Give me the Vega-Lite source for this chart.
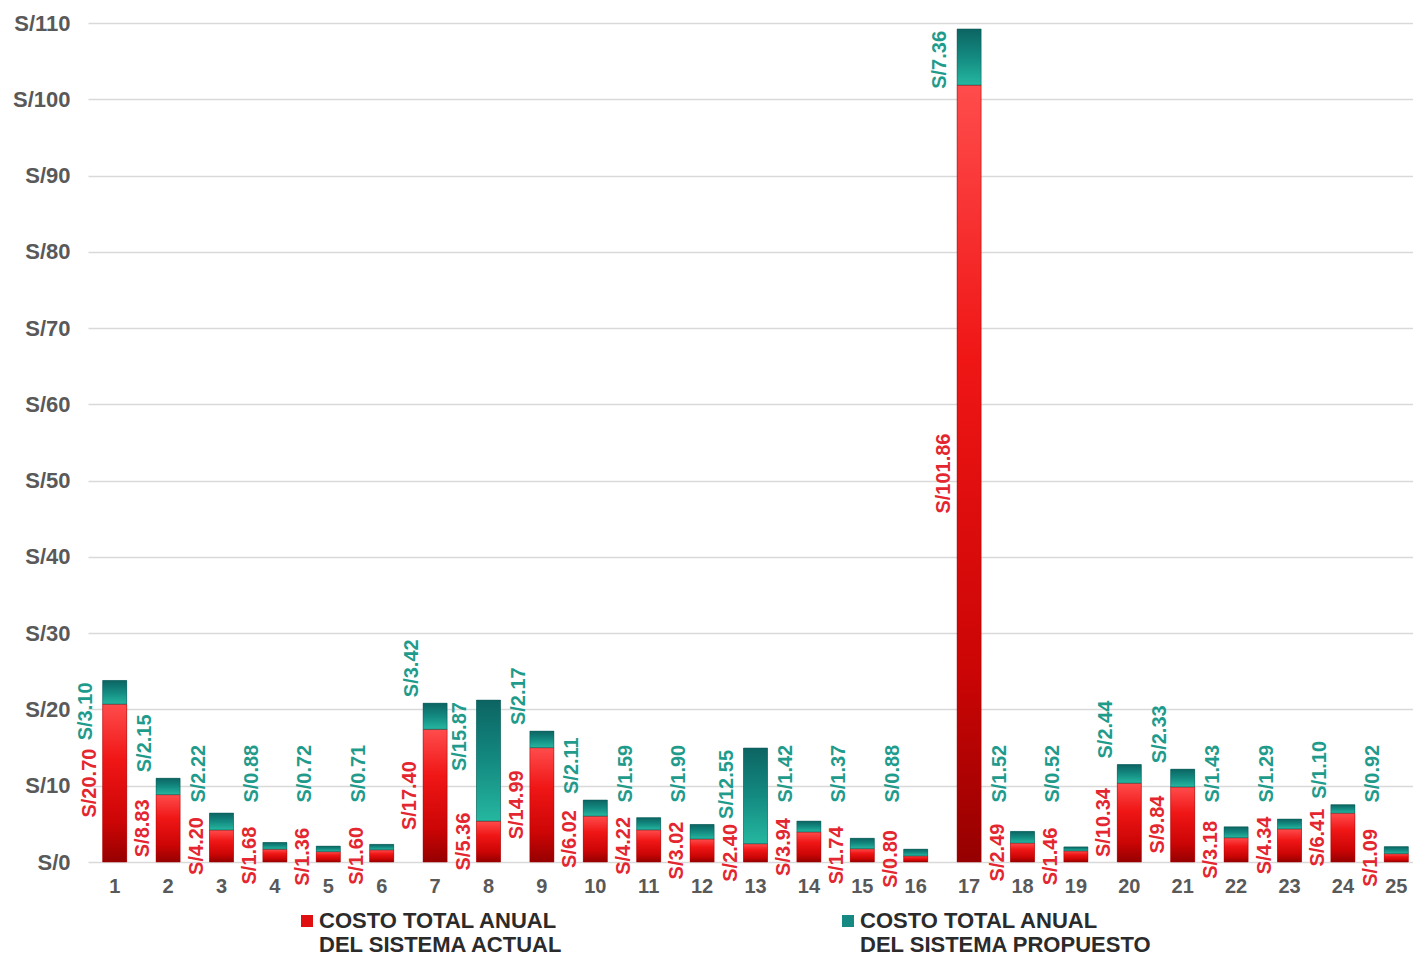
{
  "$schema": "https://vega.github.io/schema/vega-lite/v6.json",
  "autosize": "none",
  "padding": {"left": 88, "top": 23, "right": 0, "bottom": 96},
  "width": 1335,
  "height": 839,
  "background": "white",
  "config": {
    "view": {"stroke": null},
    "font": "Liberation Sans",
    "locale": {"number": {"decimal": ".", "thousands": ",", "grouping": [3], "currency": ["S/", ""]}},
    "axis": {"labelFont": "Liberation Sans", "labelFontWeight": "bold", "labelFontSize": 20, "labelColor": "#595959", "title": null}
  },
  "data": {
    "values": [
      {"cat": 1, "COSTO TOTAL ANUAL DEL SISTEMA ACTUAL": 20.70, "COSTO TOTAL ANUAL DEL SISTEMA PROPUESTO": 3.10},
      {"cat": 2, "COSTO TOTAL ANUAL DEL SISTEMA ACTUAL": 8.83, "COSTO TOTAL ANUAL DEL SISTEMA PROPUESTO": 2.15},
      {"cat": 3, "COSTO TOTAL ANUAL DEL SISTEMA ACTUAL": 4.20, "COSTO TOTAL ANUAL DEL SISTEMA PROPUESTO": 2.22},
      {"cat": 4, "COSTO TOTAL ANUAL DEL SISTEMA ACTUAL": 1.68, "COSTO TOTAL ANUAL DEL SISTEMA PROPUESTO": 0.88},
      {"cat": 5, "COSTO TOTAL ANUAL DEL SISTEMA ACTUAL": 1.36, "COSTO TOTAL ANUAL DEL SISTEMA PROPUESTO": 0.72},
      {"cat": 6, "COSTO TOTAL ANUAL DEL SISTEMA ACTUAL": 1.60, "COSTO TOTAL ANUAL DEL SISTEMA PROPUESTO": 0.71},
      {"cat": 7, "COSTO TOTAL ANUAL DEL SISTEMA ACTUAL": 17.40, "COSTO TOTAL ANUAL DEL SISTEMA PROPUESTO": 3.42},
      {"cat": 8, "COSTO TOTAL ANUAL DEL SISTEMA ACTUAL": 5.36, "COSTO TOTAL ANUAL DEL SISTEMA PROPUESTO": 15.87},
      {"cat": 9, "COSTO TOTAL ANUAL DEL SISTEMA ACTUAL": 14.99, "COSTO TOTAL ANUAL DEL SISTEMA PROPUESTO": 2.17},
      {"cat": 10, "COSTO TOTAL ANUAL DEL SISTEMA ACTUAL": 6.02, "COSTO TOTAL ANUAL DEL SISTEMA PROPUESTO": 2.11},
      {"cat": 11, "COSTO TOTAL ANUAL DEL SISTEMA ACTUAL": 4.22, "COSTO TOTAL ANUAL DEL SISTEMA PROPUESTO": 1.59},
      {"cat": 12, "COSTO TOTAL ANUAL DEL SISTEMA ACTUAL": 3.02, "COSTO TOTAL ANUAL DEL SISTEMA PROPUESTO": 1.90},
      {"cat": 13, "COSTO TOTAL ANUAL DEL SISTEMA ACTUAL": 2.40, "COSTO TOTAL ANUAL DEL SISTEMA PROPUESTO": 12.55},
      {"cat": 14, "COSTO TOTAL ANUAL DEL SISTEMA ACTUAL": 3.94, "COSTO TOTAL ANUAL DEL SISTEMA PROPUESTO": 1.42},
      {"cat": 15, "COSTO TOTAL ANUAL DEL SISTEMA ACTUAL": 1.74, "COSTO TOTAL ANUAL DEL SISTEMA PROPUESTO": 1.37},
      {"cat": 16, "COSTO TOTAL ANUAL DEL SISTEMA ACTUAL": 0.80, "COSTO TOTAL ANUAL DEL SISTEMA PROPUESTO": 0.88},
      {"cat": 17, "COSTO TOTAL ANUAL DEL SISTEMA ACTUAL": 101.86, "COSTO TOTAL ANUAL DEL SISTEMA PROPUESTO": 7.36},
      {"cat": 18, "COSTO TOTAL ANUAL DEL SISTEMA ACTUAL": 2.49, "COSTO TOTAL ANUAL DEL SISTEMA PROPUESTO": 1.52},
      {"cat": 19, "COSTO TOTAL ANUAL DEL SISTEMA ACTUAL": 1.46, "COSTO TOTAL ANUAL DEL SISTEMA PROPUESTO": 0.52},
      {"cat": 20, "COSTO TOTAL ANUAL DEL SISTEMA ACTUAL": 10.34, "COSTO TOTAL ANUAL DEL SISTEMA PROPUESTO": 2.44},
      {"cat": 21, "COSTO TOTAL ANUAL DEL SISTEMA ACTUAL": 9.84, "COSTO TOTAL ANUAL DEL SISTEMA PROPUESTO": 2.33},
      {"cat": 22, "COSTO TOTAL ANUAL DEL SISTEMA ACTUAL": 3.18, "COSTO TOTAL ANUAL DEL SISTEMA PROPUESTO": 1.43},
      {"cat": 23, "COSTO TOTAL ANUAL DEL SISTEMA ACTUAL": 4.34, "COSTO TOTAL ANUAL DEL SISTEMA PROPUESTO": 1.29},
      {"cat": 24, "COSTO TOTAL ANUAL DEL SISTEMA ACTUAL": 6.41, "COSTO TOTAL ANUAL DEL SISTEMA PROPUESTO": 1.10},
      {"cat": 25, "COSTO TOTAL ANUAL DEL SISTEMA ACTUAL": 1.09, "COSTO TOTAL ANUAL DEL SISTEMA PROPUESTO": 0.92}
    ]
  },
  "transform": [
    {"fold": ["COSTO TOTAL ANUAL DEL SISTEMA ACTUAL", "COSTO TOTAL ANUAL DEL SISTEMA PROPUESTO"], "as": ["serie", "value"]},
    {"stack": "value", "groupby": ["cat"], "sort": [{"field": "serie", "order": "ascending"}], "as": ["v0", "v1"]}
  ],
  "encoding": {
    "x": {
      "field": "cat", "type": "ordinal",
      "scale": {"paddingInner": 0.55, "paddingOuter": 0.275},
      "axis": {"labelAngle": 0, "domain": false, "ticks": false, "tickSize": 0, "labelPadding": 14, "grid": false}
    }
  },
  "layer": [
    {
      "mark": {"type": "bar"},
      "encoding": {
        "y": {"field": "v1", "type": "quantitative", "scale": {"domain": [0, 110], "nice": false},
          "axis": {"values": [0, 10, 20, 30, 40, 50, 60, 70, 80, 90, 100, 110], "format": "$.0f", "labelFontSize": 22, "domain": false, "ticks": false, "tickSize": 0, "labelPadding": 18, "grid": true, "gridColor": "#d9d9d9", "gridWidth": 1.5}},
        "y2": {"field": "v0"},
        "color": {
          "field": "serie", "type": "nominal",
          "scale": {"domain": ["COSTO TOTAL ANUAL DEL SISTEMA ACTUAL", "COSTO TOTAL ANUAL DEL SISTEMA PROPUESTO"], "range": ["#e01010", "#168a82"]},
          "legend": {
            "orient": "none", "legendX": 208, "legendY": 877, "direction": "horizontal", "columns": 2,
            "columnPadding": 273, "padding": 0, "title": null,
            "symbolType": "M-1,0.667H1V2.667H-1Z", "symbolSize": 144, "symbolStrokeWidth": 0, "labelOffset": 1,
            "labelFont": "Liberation Sans", "labelFontWeight": "bold", "labelFontSize": 22, "labelColor": "#2b2b2b",
            "labelLimit": 500, "labelBaseline": "top",
            "labelExpr": "[substring(datum.label, 0, 17), substring(datum.label, 18)]"
          }
        }
      }
    },
    {
      "transform": [{"filter": "datum.serie == 'COSTO TOTAL ANUAL DEL SISTEMA ACTUAL'"}],
      "mark": {"type": "bar", "stroke": "#a30000", "strokeWidth": 0.8, "strokeOpacity": 0.6,
        "fill": {"gradient": "linear", "x1": 0, "y1": 0, "x2": 0, "y2": 1,
          "stops": [{"offset": 0, "color": "#ff4c4c"}, {"offset": 0.35, "color": "#f01616"}, {"offset": 0.75, "color": "#cc0505"}, {"offset": 1, "color": "#960000"}]}},
      "encoding": {
        "y": {"field": "v1", "type": "quantitative", "scale": {"domain": [0, 110], "nice": false}, "axis": null},
        "y2": {"field": "v0"}
      }
    },
    {
      "transform": [{"filter": "datum.serie == 'COSTO TOTAL ANUAL DEL SISTEMA PROPUESTO'"}],
      "mark": {"type": "bar", "stroke": "#0b5553", "strokeWidth": 0.8, "strokeOpacity": 0.6,
        "fill": {"gradient": "linear", "x1": 0, "y1": 0, "x2": 0, "y2": 1,
          "stops": [{"offset": 0, "color": "#0c6462"}, {"offset": 0.5, "color": "#138a80"}, {"offset": 1, "color": "#25b7a0"}]}},
      "encoding": {
        "y": {"field": "v1", "type": "quantitative", "scale": {"domain": [0, 110], "nice": false}, "axis": null},
        "y2": {"field": "v0"}
      }
    },
    {
      "transform": [{"filter": "datum.serie == 'COSTO TOTAL ANUAL DEL SISTEMA ACTUAL'"}],
      "mark": {"type": "text", "angle": 270, "align": "center", "baseline": "middle", "xOffset": -25,
        "font": "Liberation Sans", "fontWeight": "bold", "fontSize": 20, "color": "#e3262f"},
      "encoding": {
        "y": {"field": "value", "type": "quantitative", "scale": {"domain": [0, 220], "nice": false}, "axis": null},
        "text": {"field": "value", "type": "quantitative", "format": "$.2f"}
      }
    },
    {
      "transform": [{"filter": "datum.serie == 'COSTO TOTAL ANUAL DEL SISTEMA PROPUESTO' && datum.cat != 1 && datum.cat != 8 && datum.cat != 13 && datum.cat != 17"}],
      "mark": {"type": "text", "angle": 270, "align": "left", "baseline": "middle", "xOffset": -23, "yOffset": -6,
        "font": "Liberation Sans", "fontWeight": "bold", "fontSize": 20, "color": "#1f9b8c"},
      "encoding": {
        "y": {"field": "v1", "type": "quantitative", "scale": {"domain": [7, 110], "range": [785.6, 0], "clamp": true, "nice": false, "zero": false}, "axis": null},
        "text": {"field": "value", "type": "quantitative", "format": "$.2f"}
      }
    },
    {
      "transform": [{"filter": "datum.serie == 'COSTO TOTAL ANUAL DEL SISTEMA PROPUESTO' && (datum.cat == 1 || datum.cat == 8 || datum.cat == 13 || datum.cat == 17)"}],
      "mark": {"type": "text", "angle": 270, "align": "right", "baseline": "middle", "xOffset": -29, "yOffset": 2,
        "font": "Liberation Sans", "fontWeight": "bold", "fontSize": 20, "color": "#1f9b8c"},
      "encoding": {
        "y": {"field": "v1", "type": "quantitative", "scale": {"domain": [0, 110], "nice": false}, "axis": null},
        "text": {"field": "value", "type": "quantitative", "format": "$.2f"}
      }
    }
  ],
  "resolve": {"scale": {"y": "independent"}}
}
